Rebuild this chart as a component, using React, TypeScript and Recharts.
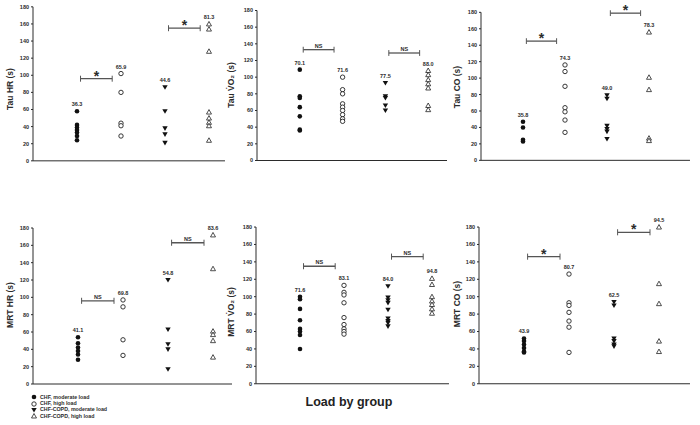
import { ReferenceLine, Scatter, ScatterChart, XAxis, YAxis } from 'recharts'

const groups = ['CHF, moderate load', 'CHF, high load', 'CHF-COPD, moderate load', 'CHF-COPD, high load']
const yTicks = [0, 20, 40, 60, 80, 100, 120, 140, 160, 180]

// individual values (s), one list per group
const tauHR = [
  [58, 42, 39, 36, 33, 29, 24],
  [102, 80, 44, 41, 29],
  [86, 58, 38, 31, 21],
  [160, 154, 128, 57, 50, 45, 41, 24],
]
const tauHRMeans = ['36.3', '65.9', '44.6', '81.3']
const tauHRSig = ['*', '*']
const tauHRSigY = [96, 155]

const tauVO2 = [
  [109, 77, 75, 64, 53, 37, 36],
  [100, 85, 80, 68, 64, 60, 55, 50, 47],
  [93, 77, 75, 66, 60],
  [108, 103, 97, 92, 87, 66, 61],
]
const tauVO2Means = ['70.1', '71.6', '77.5', '88.0']
const tauVO2Sig = ['NS', 'NS']
const tauVO2SigY = [133, 129]

const tauCO = [
  [47, 40, 25, 23],
  [116, 108, 90, 64, 59, 49, 34],
  [79, 75, 42, 38, 35, 26],
  [156, 101, 86, 27, 24],
]
const tauCOMeans = ['35.8', '74.3', '49.0', '78.3']
const tauCOSig = ['*', '*']
const tauCOSigY = [145, 179]

const mrtHR = [
  [54, 47, 42, 38, 34, 28],
  [97, 89, 51, 33],
  [120, 63, 46, 40, 17],
  [172, 133, 61, 57, 50, 31],
]
const mrtHRMeans = ['41.1', '69.8', '54.8', '83.6']
const mrtHRSig = ['NS', 'NS']
const mrtHRSigY = [96, 163]

const mrtVO2 = [
  [100, 97, 86, 73, 63, 60, 56, 40],
  [113, 105, 102, 93, 76, 68, 63, 60, 57],
  [112, 99, 96, 93, 85, 75, 72, 70, 66],
  [121, 114, 100, 95, 91, 86, 81],
]
const mrtVO2Means = ['71.6', '83.1', '84.0', '94.8']
const mrtVO2Sig = ['NS', 'NS']
const mrtVO2SigY = [135, 146]

const mrtCO = [
  [52, 49, 45, 41, 37, 36],
  [126, 93, 90, 82, 72, 65, 36],
  [94, 90, 52, 49, 45, 43],
  [180, 115, 92, 49, 37],
]
const mrtCOMeans = ['43.9', '80.7', '62.5', '94.5']
const mrtCOSig = ['*', '*']
const mrtCOSigY = [146, 174]

const FONT = '"Liberation Sans", Arial, sans-serif'
const INK = '#2b2b2b'
const Y_W = 30
const X_H = 8
const Y_TOP = 195

type Geo = { ax: number; xEnd: number; y0: number; y180: number; step: number; tx: number; ty: number }

function marker(g: number, cx: number, cy: number) {
  if (g === 0) return <circle cx={cx} cy={cy} r={2.3} fill="#111" />
  if (g === 1) return <circle cx={cx} cy={cy} r={2.2} fill="#fff" stroke="#222" strokeWidth={0.9} />
  if (g === 2)
    return <polygon points={`${cx - 2.7},${cy - 2} ${cx + 2.7},${cy - 2} ${cx},${cy + 2.6}`} fill="#111" />
  return (
    <polygon
      points={`${cx - 2.5},${cy + 2} ${cx + 2.5},${cy + 2} ${cx},${cy - 2.5}`}
      fill="#fff"
      stroke="#222"
      strokeWidth={0.8}
    />
  )
}

function MeanLabel(p: any) {
  return (
    <text
      x={p.cx}
      y={p.cy - 5}
      textAnchor="middle"
      fontSize={5.5}
      fontWeight={700}
      fontFamily={FONT}
      style={{ fill: INK, stroke: 'none' }}
    >
      {p.payload.text}
    </text>
  )
}

function Panel({
  title,
  values,
  means,
  sig,
  sigY,
  geo,
}: {
  title: string
  values: number[][]
  means: string[]
  sig: string[]
  sigY: number[]
  geo: Geo
}) {
  const top = geo.y0 - ((geo.y0 - geo.y180) * Y_TOP) / 180
  const width = Y_W + geo.xEnd - geo.ax
  const height = geo.y0 - top + X_H
  const xMax = (geo.xEnd - geo.ax) / geo.step
  const labels = values.map((vals, g) => ({ x: g + 1, y: Math.max(...vals), text: means[g] }))

  return (
    <>
      <div style={{ position: 'absolute', left: geo.ax - Y_W, top, width, height }}>
        <ScatterChart width={width} height={height} margin={{ top: 0, right: 0, bottom: 0, left: 0 }}>
          <XAxis
            type="number"
            dataKey="x"
            domain={[0, xMax]}
            ticks={[1, 2, 3, 4]}
            tick={false}
            tickSize={3}
            height={X_H}
            stroke={INK}
          />
          <YAxis
            type="number"
            dataKey="y"
            domain={[0, Y_TOP]}
            ticks={yTicks}
            interval={0}
            width={Y_W}
            tickSize={2}
            tickMargin={2}
            axisLine={false}
            stroke={INK}
            tick={{ fontSize: 5.5, fill: INK, fontWeight: 700, fontFamily: FONT }}
          />
          <ReferenceLine segment={[{ x: 0, y: 0 }, { x: 0, y: 180 }]} stroke={INK} ifOverflow="visible" />
          {sig.map((s, i) => {
            const x1 = 2 * i + 1.08
            const x2 = 2 * i + 1.8
            const y = sigY[i]
            const star = s === '*'
            return [
              <ReferenceLine
                key={`b${i}`}
                segment={[{ x: x1, y }, { x: x2, y }]}
                stroke="#555"
                strokeWidth={1.3}
                ifOverflow="visible"
                label={{
                  value: s,
                  position: 'top',
                  offset: star ? -2 : 2,
                  fontSize: star ? 14 : 5.5,
                  fontWeight: 700,
                  fill: INK,
                  stroke: 'none',
                  style: { fill: INK },
                  fontFamily: FONT,
                }}
              />,
              <ReferenceLine
                key={`l${i}`}
                segment={[{ x: x1, y: y - 3.5 }, { x: x1, y: y + 3.5 }]}
                stroke="#555"
                strokeWidth={1}
                ifOverflow="visible"
              />,
              <ReferenceLine
                key={`r${i}`}
                segment={[{ x: x2, y: y - 3.5 }, { x: x2, y: y + 3.5 }]}
                stroke="#555"
                strokeWidth={1}
                ifOverflow="visible"
              />,
            ]
          })}
          {values.map((vals, g) => (
            <Scatter
              key={groups[g]}
              name={groups[g]}
              data={vals.map((v) => ({ x: g + 1, y: v }))}
              shape={(p: any) => marker(g, p.cx, p.cy)}
              isAnimationActive={false}
            />
          ))}
          <Scatter data={labels} shape={MeanLabel} fill={INK} isAnimationActive={false} />
        </ScatterChart>
      </div>
      <div
        style={{
          position: 'absolute',
          left: geo.tx,
          top: geo.ty,
          transform: 'translate(-50%, -50%) rotate(-90deg)',
          whiteSpace: 'nowrap',
          fontSize: 8.5,
          fontWeight: 700,
          color: INK,
        }}
      >
        {title}
      </div>
    </>
  )
}

export default function App() {
  return (
    <div
      style={{
        position: 'absolute',
        left: 0,
        top: 0,
        width: 700,
        height: 425,
        background: '#fff',
        fontFamily: FONT,
        overflow: 'hidden',
      }}
    >
      <Panel
        title="Tau HR (s)"
        values={tauHR}
        means={tauHRMeans}
        sig={tauHRSig}
        sigY={tauHRSigY}
        geo={{ ax: 33, xEnd: 225, y0: 161, y180: 7, step: 44, tx: 10, ty: 89 }}
      />
      <Panel
        title="Tau V̇O₂ (s)"
        values={tauVO2}
        means={tauVO2Means}
        sig={tauVO2Sig}
        sigY={tauVO2SigY}
        geo={{ ax: 257, xEnd: 447, y0: 160, y180: 10, step: 42.8, tx: 231, ty: 85 }}
      />
      <Panel
        title="Tau CO (s)"
        values={tauCO}
        means={tauCOMeans}
        sig={tauCOSig}
        sigY={tauCOSigY}
        geo={{ ax: 481, xEnd: 690, y0: 160.3, y180: 12.3, step: 42, tx: 457, ty: 87 }}
      />
      <Panel
        title="MRT HR (s)"
        values={mrtHR}
        means={mrtHRMeans}
        sig={mrtHRSig}
        sigY={mrtHRSigY}
        geo={{ ax: 33, xEnd: 232, y0: 384, y180: 228, step: 45, tx: 10, ty: 305 }}
      />
      <Panel
        title="MRT V̇O₂ (s)"
        values={mrtVO2}
        means={mrtVO2Means}
        sig={mrtVO2Sig}
        sigY={mrtVO2SigY}
        geo={{ ax: 256, xEnd: 449, y0: 384, y180: 227.3, step: 44, tx: 231, ty: 312 }}
      />
      <Panel
        title="MRT CO (s)"
        values={mrtCO}
        means={mrtCOMeans}
        sig={mrtCOSig}
        sigY={mrtCOSigY}
        geo={{ ax: 479, xEnd: 690, y0: 384, y180: 227.3, step: 45, tx: 457, ty: 304 }}
      />

      <div style={{ position: 'absolute', left: 31, top: 394 }}>
        {groups.map((g, i) => (
          <div key={g} style={{ display: 'flex', alignItems: 'center', height: 6.4 }}>
            <svg width={6} height={6} style={{ overflow: 'visible' }}>
              {marker(i, 3, 3)}
            </svg>
            <span style={{ marginLeft: 3, fontSize: 5.3, fontWeight: 700, color: INK, lineHeight: 1 }}>{g}</span>
          </div>
        ))}
      </div>

      <div
        style={{
          position: 'absolute',
          left: 349,
          top: 402,
          transform: 'translate(-50%, -50%)',
          fontSize: 12.5,
          fontWeight: 700,
          color: '#222',
          whiteSpace: 'nowrap',
        }}
      >
        Load by group
      </div>
    </div>
  )
}
